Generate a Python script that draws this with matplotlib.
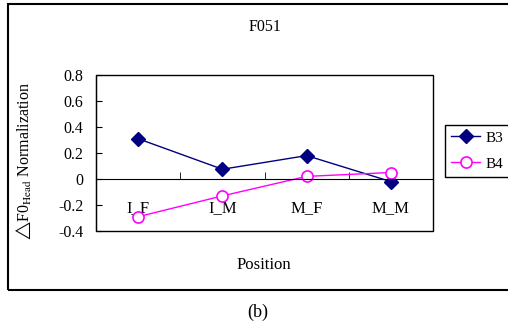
import matplotlib
matplotlib.use('Agg')
import matplotlib.pyplot as plt
from matplotlib.patches import Rectangle

# data
positions = ['I_F', 'I_M', 'M_F', 'M_M']
b3 = [0.31, 0.075, 0.18, -0.02]
b4 = [-0.29, -0.13, 0.02, 0.05]
yticks = [-0.4, -0.2, 0, 0.2, 0.4, 0.6, 0.8]
ytick_labels = ['-0.4', '-0.2', '0', '0.2', '0.4', '0.6', '0.8']

plt.rcParams['font.family'] = ['Liberation Serif', 'DejaVu Serif']
plt.rcParams['mathtext.fontset'] = 'stix'

W, H = 508, 327
fig = plt.figure(figsize=(W / 100, H / 100), dpi=100)
ax = fig.add_axes([96 / W, 1 - 231 / H, (433 - 96) / W, (231 - 75) / H])

x = list(range(len(positions)))
ax.plot(x, b3, color='#000080', lw=1, marker='D', ms=7, mfc='#000080', mec='#000080', label='B3')
ax.plot(x, b4, color='#ff00ff', lw=1, marker='o', ms=8, mfc='white', mec='#ff00ff', mew=1.2, label='B4')

ax.set_xlim(-0.5, 3.5)
ax.set_ylim(-0.4, 0.8)
ax.set_yticks(yticks)
ax.set_yticklabels(ytick_labels)
ax.tick_params(axis='y', direction='in', length=4, labelsize=11.5, pad=9)

# x axis crosses at zero, frame drawn separately
ax.spines['bottom'].set_position(('data', 0))
ax.spines['top'].set_visible(False)
ax.spines['right'].set_visible(False)
ax.add_patch(Rectangle((0, 0), 1, 1, transform=ax.transAxes, fill=False, ec='black', lw=1, clip_on=False))
ax.set_xticks(x)
ax.set_xticklabels(positions)
ax.set_xticks([0.5, 1.5, 2.5], minor=True)
ax.tick_params(axis='x', which='major', length=0, labelsize=12, pad=15)
ax.tick_params(axis='x', which='minor', direction='in', length=5)

ax.set_ylabel('$\\bigtriangleup$F0$_{\\mathrm{Head}}$ Normalization', fontsize=11.5)
ax.yaxis.set_label_coords(-(96 - 33) / (433 - 96), 0.45)

fig.text(265 / W, 1 - 27 / H, 'F051', ha='center', va='center', fontsize=11.5)
fig.text(264 / W, 1 - 265 / H, 'Position', ha='center', va='center', fontsize=12)
fig.text(258 / W, 1 - 312 / H, '(b)', ha='center', va='center', fontsize=13)

leg = ax.legend(loc='upper left', bbox_to_anchor=(445 / W, 1 - 125 / H), bbox_transform=fig.transFigure,
                fontsize=11, fancybox=False, framealpha=1, edgecolor='black', borderaxespad=0,
                handlelength=1.9, handletextpad=0.35, borderpad=0.4, labelspacing=0.8)
leg.get_frame().set_linewidth(1)

# outer frame (right side runs off the picture)
fig.patches.append(Rectangle((8 / W, 1 - 290 / H), 1.0, (290 - 4) / H, transform=fig.transFigure,
                             fill=False, ec='black', lw=1.5))

plt.savefig('out.png', dpi=100)
